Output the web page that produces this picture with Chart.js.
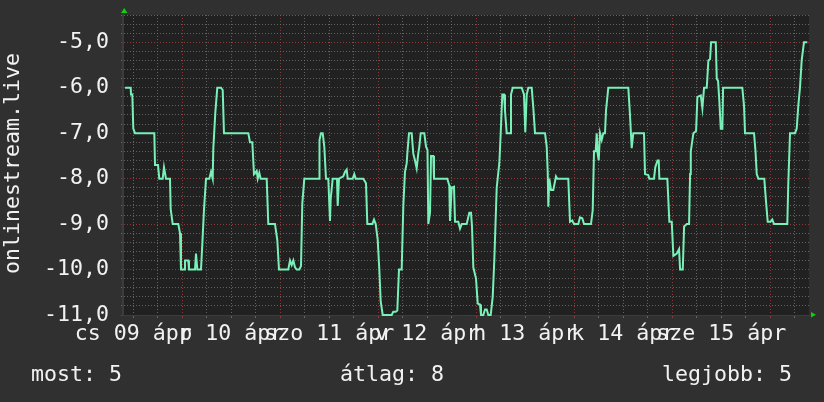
<!DOCTYPE html>
<html>
<head>
<meta charset="utf-8">
<script src="https://cdn.jsdelivr.net/npm/chart.js@4/dist/chart.umd.min.js"></script>
<style>
html,body{margin:0;padding:0;background:#303030;overflow:hidden}
#wrap{position:relative;width:824px;height:402px}
</style>
</head>
<body>
<div id="wrap"><canvas id="c" width="824" height="402"></canvas></div>
<script>
// ---- data (hours counted from 2020-04-09 00:00) ----
const sampleHours = [
10.0,11.39,11.46,11.78,12.02,12.44,17.17,17.34,18.07,18.39,19.22,19.54,20.03,21.01,21.18,21.67,23.04,23.46,23.70,
24.44,24.68,25.49,25.66,27.13,27.38,27.70,28.60,28.92,29.34,29.83,30.64,31.05,31.47,31.61,32.10,32.59,33.50,33.92,34.23,
40.19,40.60,41.17,41.58,42.24,42.49,42.88,43.22,44.69,45.08,46.72,47.29,47.70,
49.98,50.40,50.81,51.21,51.62,52.04,52.68,53.09,53.41,53.90,57.57,57.62,57.99,58.41,58.80,59.21,59.78,60.19,60.36,60.85,
61.91,62.08,62.40,63.45,63.87,64.28,64.53,65.75,66.14,66.49,68.35,69.01,69.33,70.55,70.97,71.39,71.88,
72.27,72.61,73.10,75.30,75.69,76.28,76.68,77.09,77.75,78.15,78.56,78.98,79.13,79.54,80.20,80.59,81.01,81.42,81.81,
82.06,82.41,83.29,83.71,84.07,84.27,84.69,84.93,85.49,85.66,88.92,89.41,89.58,90.00,90.56,90.81,91.62,92.03,92.45,
93.67,94.31,94.73,94.97,95.29,95.95,96.37,96.93,97.17,97.74,98.15,98.57,98.96,99.55,100.04,100.43,101.02,101.66,
102.00,102.39,102.81,103.05,103.47,104.28,104.52,104.94,107.14,107.70,108.02,108.37,108.76,109.59,109.99,110.40,
112.85,113.27,113.51,113.66,113.90,114.32,114.88,115.54,115.86,118.55,118.97,119.53,119.95,
121.00,121.42,121.98,122.40,124.11,124.53,124.85,125.26,125.51,125.75,126.00,126.32,126.73,127.12,127.54,127.79,128.35,
133.25,133.66,134.08,134.47,137.09,137.34,138.15,138.39,139.54,139.86,140.40,140.70,140.85,142.81,143.30,143.89,
144.28,145.12,145.68,145.93,146.59,146.91,147.57,148.13,148.38,148.55,149.19,149.85,150.17,151.00,151.39,151.80,
152.46,152.86,153.27,153.52,154.67,154.91,155.23,155.55,155.89,156.29,156.46,161.17,161.59,161.83,164.04,164.40,
164.70,165.09,166.55,166.97,167.39,168.07,168.51,168.93,172.19,172.43,172.85,174.07,174.49,174.88,175.29,175.71,
176.27,177.08
];
const sampleValues = [
-6.0,-6.0,-6.15,-6.15,-6.9,-7.0,-7.0,-7.7,-7.7,-8.0,-8.0,-7.75,-8.0,-8.0,-8.67,-9.0,-9.0,-9.2,-10.0,
-10.0,-9.8,-9.8,-10.0,-10.0,-9.65,-10.0,-10.0,-9.45,-8.67,-8.0,-8.0,-7.85,-8.0,-7.35,-6.56,-6.0,-6.0,-6.05,-7.0,
-7.0,-7.2,-7.2,-7.9,-7.83,-8.0,-7.87,-8.0,-8.0,-9.0,-9.0,-9.35,-10.0,
-10.0,-9.8,-9.9,-9.8,-9.95,-10.0,-10.0,-9.92,-8.55,-8.0,-8.0,-7.15,-7.0,-7.0,-7.3,-8.0,-8.0,-8.93,-8.45,-8.0,
-8.0,-8.6,-8.0,-7.95,-7.85,-7.8,-8.0,-8.0,-7.9,-8.0,-8.0,-8.1,-9.0,-9.0,-8.9,-9.0,-9.35,
-10.0,-10.7,-11.0,-11.0,-10.93,-10.93,-10.9,-10.0,-10.0,-8.6,-7.85,-7.66,-7.45,-7.0,-7.0,-7.45,-7.6,-7.77,-7.45,
-7.3,-7.0,-7.0,-7.3,-7.37,-9.0,-8.75,-7.5,-7.5,-8.0,-8.0,-8.15,-8.93,-8.2,-8.18,-8.95,-8.95,-9.1,-9.0,
-9.0,-8.75,-8.75,-9.05,-9.95,-10.2,-10.75,-10.77,-11.0,-11.0,-10.88,-10.88,-11.0,-11.0,-10.6,-9.8,-8.2,-7.66,
-7.0,-6.15,-6.15,-6.5,-7.0,-7.0,-6.15,-6.0,-6.0,-6.15,-6.98,-6.15,-6.0,-6.0,-6.45,-7.0,
-7.0,-7.3,-7.85,-8.62,-8.0,-8.25,-8.25,-7.95,-8.0,-8.0,-8.95,-8.92,-9.0,
-9.0,-8.85,-8.87,-9.0,-9.0,-8.7,-7.4,-7.4,-7.0,-7.45,-7.6,-7.0,-7.15,-7.0,-7.0,-6.5,-6.0,
-6.0,-6.6,-7.33,-7.0,-7.0,-7.9,-7.92,-8.0,-8.0,-7.75,-7.6,-7.6,-8.0,-8.0,-8.95,-8.95,
-9.7,-9.65,-9.55,-10.0,-10.0,-9.05,-9.0,-9.0,-7.9,-7.4,-7.0,-6.95,-6.2,-6.17,-6.45,-6.0,
-6.0,-5.4,-5.37,-5.0,-5.0,-5.8,-5.85,-6.3,-6.9,-6.9,-6.0,-6.0,-6.4,-7.0,-7.0,-7.4,
-7.9,-8.0,-8.0,-8.5,-8.95,-8.95,-8.9,-9.0,-9.0,-8.1,-7.0,-7.0,-6.9,-6.4,-6.0,-5.4,
-5.0,-5.0
];
const dayLabels = ['cs 09 ápr','p 10 ápr','szo 11 ápr','v 12 ápr','h 13 ápr','k 14 ápr','sze 15 ápr'];
const dayLabelHours = [12,36,60,84,108,132,156];
const yTickValues = [-11,-10,-9,-8,-7,-6,-5];
const yTickLabels = ['-11,0','-10,0','-9,0','-8,0','-7,0','-6,0','-5,0'];
const yAxisTitle = 'onlinestream.live';
const legendTexts = ['most: 5','átlag: 8','legjobb: 5'];

// ---- styling ----
const FONT_FAMILY = '"DejaVu Sans Mono", monospace';
const FONT_SIZE = 21.6;
const TEXT = '#f2f2f2';
const GRID_MINOR = 'rgba(120,120,120,0.75)';
const GRID_MAJOR = 'rgba(150,60,60,0.9)';
const LINE = '#78f0b8';
const X_MIN = 9.5, X_MAX = 177.5, Y_MIN = -11, Y_MAX = -4.4;

const xGrid = []; for (let h = 12; h < X_MAX; h += 6) xGrid.push(h);
const yGrid = []; for (let i = 0; i <= 33; i++) yGrid.push(+(Y_MIN + i * 0.2).toFixed(1));

const decor = {
  id: 'decor',
  beforeDraw(chart) {
    const {ctx, chartArea: a} = chart;
    ctx.save();
    ctx.fillStyle = '#303030';
    ctx.fillRect(0, 0, chart.width, chart.height);
    ctx.fillStyle = '#212121';
    ctx.fillRect(a.left, a.top, a.right - a.left, a.bottom - a.top);
    ctx.restore();
  },
  afterDraw(chart) {
    const {ctx, chartArea: a} = chart;
    const xs = chart.scales.x;
    ctx.save();
    ctx.font = FONT_SIZE + 'px ' + FONT_FAMILY;
    ctx.fillStyle = TEXT;
    ctx.textBaseline = 'alphabetic';
    // day labels, centred at noon of each day (rrdtool style, may overlap)
    ctx.textAlign = 'center';
    dayLabels.forEach((t, i) => ctx.fillText(t, xs.getPixelForValue(dayLabelHours[i]), a.bottom + 24.5));
    // legend line
    ctx.textAlign = 'left';
    ctx.fillText(legendTexts[0], 31, 381);
    ctx.fillText(legendTexts[1], 340, 381);
    ctx.fillText(legendTexts[2], 662, 381);
    // rotated y title
    ctx.save();
    ctx.translate(18.5, (a.top + a.bottom) / 2 - 1.5);
    ctx.rotate(-Math.PI / 2);
    ctx.textAlign = 'center';
    ctx.fillText(yAxisTitle, 0, 0);
    ctx.restore();
    // axis arrows
    ctx.fillStyle = '#10d010';
    ctx.beginPath();
    ctx.moveTo(a.left - 2, 13); ctx.lineTo(a.left + 4.5, 13); ctx.lineTo(a.left + 1.2, 8);
    ctx.closePath(); ctx.fill();
    ctx.beginPath();
    ctx.moveTo(a.right + 2, a.bottom - 3); ctx.lineTo(a.right + 2, a.bottom + 2.5); ctx.lineTo(a.right + 7, a.bottom - 0.2);
    ctx.closePath(); ctx.fill();
    ctx.restore();
  }
};

const isMajorY = v => Math.abs(v - Math.round(v)) < 1e-6;
const isMajorX = v => Math.abs(v % 24) < 1e-6;

new Chart(document.getElementById('c'), {
  type: 'line',
  data: {
    datasets: [{
      data: sampleHours.map((h, i) => ({x: h, y: sampleValues[i]})),
      borderColor: LINE,
      borderWidth: 2,
      pointRadius: 0,
      tension: 0,
      fill: false,
      clip: 3
    }]
  },
  options: {
    responsive: false,
    animation: false,
    devicePixelRatio: 1,
    layout: {padding: {top: 15, right: 15, bottom: 0, left: 0}},
    plugins: {legend: {display: false}, tooltip: {enabled: false}, title: {display: false}},
    scales: {
      x: {
        type: 'linear',
        min: X_MIN, max: X_MAX,
        afterFit: s => { s.height = 87; s.paddingLeft = 0; s.paddingRight = 0; },
        afterBuildTicks: s => { s.ticks = xGrid.map(v => ({value: v})); },
        grid: {
          color: c => (c.tick && isMajorX(c.tick.value)) ? GRID_MAJOR : GRID_MINOR,
          lineWidth: 1,
          drawTicks: true,
          tickLength: 3
        },
        border: {display: true, color: '#3c3c3c', width: 1, dash: [1, 2]},
        ticks: {
          autoSkip: false,
          maxRotation: 0,
          minRotation: 0,
          padding: 2,
          callback: () => ''
        }
      },
      y: {
        type: 'linear',
        min: Y_MIN, max: Y_MAX,
        afterFit: s => { s.width = 123; s.paddingTop = 0; s.paddingBottom = 0; },
        afterBuildTicks: s => { s.ticks = yGrid.map(v => ({value: v})); },
        grid: {
          color: c => (c.tick && isMajorY(c.tick.value)) ? GRID_MAJOR : GRID_MINOR,
          lineWidth: 1,
          drawTicks: true,
          tickLength: 2
        },
        border: {display: true, color: '#3c3c3c', width: 2, dash: [1, 2]},
        ticks: {
          autoSkip: false,
          padding: 12,
          color: TEXT,
          font: {family: FONT_FAMILY, size: FONT_SIZE},
          callback: v => {
            const i = yTickValues.findIndex(t => Math.abs(t - v) < 1e-6);
            return i >= 0 ? yTickLabels[i] : '';
          }
        }
      }
    }
  },
  plugins: [decor]
});
</script>
</body>
</html>
